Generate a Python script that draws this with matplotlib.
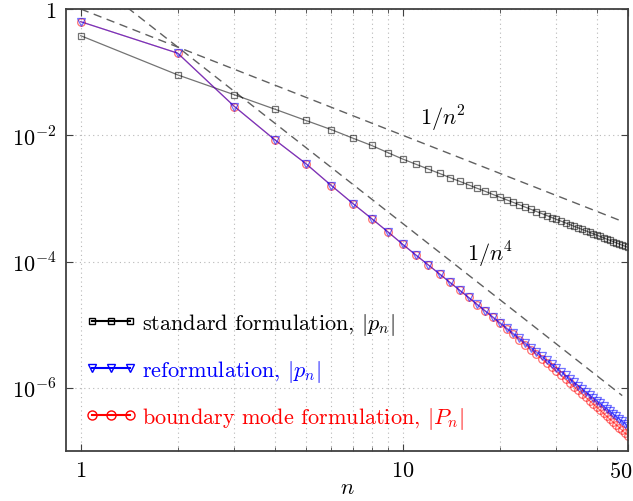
import numpy as np
import matplotlib
matplotlib.use("Agg")
import matplotlib.pyplot as plt
from matplotlib.lines import Line2D
from matplotlib.ticker import FixedLocator, FixedFormatter, NullLocator
from matplotlib.transforms import ScaledTranslation

plt.rcParams['font.family'] = 'serif'
plt.rcParams['font.serif'] = ['cmr10', 'DejaVu Serif']
plt.rcParams['mathtext.fontset'] = 'cm'
plt.rcParams['axes.formatter.use_mathtext'] = True

# mode number
n = list(range(1, 51))

# standard formulation, |p_n|
standard = [
    0.378, 0.0906, 0.0438, 0.0260, 0.0172, 0.0123, 0.00900, 0.00690, 0.00530, 0.00420,
    3.47e-3, 2.92e-3, 2.49e-3, 2.14e-3, 1.87e-3, 1.64e-3, 1.45e-3, 1.30e-3, 1.16e-3, 1.05e-3,
    9.52e-4, 8.68e-4, 7.94e-4, 7.29e-4, 6.72e-4, 6.21e-4, 5.76e-4, 5.36e-4, 4.99e-4, 4.67e-4,
    4.37e-4, 4.10e-4, 3.86e-4, 3.63e-4, 3.43e-4, 3.24e-4, 3.07e-4, 2.91e-4, 2.76e-4, 2.63e-4,
    2.50e-4, 2.38e-4, 2.27e-4, 2.17e-4, 2.07e-4, 1.98e-4, 1.90e-4, 1.82e-4, 1.75e-4, 1.68e-4,
]

# reformulation, |p_n|
reform = [
    0.63, 0.20, 0.0286, 0.00853, 0.00356, 0.00160, 8.3e-4, 4.8e-4, 2.94e-4, 1.87e-4,
    1.26e-4, 8.84e-5, 6.37e-5, 4.69e-5, 3.53e-5, 2.71e-5, 2.11e-5, 1.67e-5, 1.34e-5, 1.08e-5,
    8.87e-6, 7.32e-6, 6.10e-6, 5.12e-6, 4.33e-6, 3.68e-6, 3.15e-6, 2.72e-6, 2.35e-6, 2.05e-6,
    1.79e-6, 1.57e-6, 1.38e-6, 1.22e-6, 1.09e-6, 9.68e-7, 8.65e-7, 7.75e-7, 6.97e-7, 6.27e-7,
    5.67e-7, 5.14e-7, 4.66e-7, 4.24e-7, 3.87e-7, 3.53e-7, 3.23e-7, 2.97e-7, 2.72e-7, 2.51e-7,
]

# boundary mode formulation, |P_n|
boundary = [
    0.63, 0.20, 0.0286, 0.00853, 0.00356, 0.00160, 8.3e-4, 4.8e-4, 2.94e-4, 1.87e-4,
    1.26e-4, 8.84e-5, 6.37e-5, 4.69e-5, 3.53e-5, 2.70e-5, 2.09e-5, 1.645e-5, 1.313e-5, 1.053e-5,
    8.59e-6, 7.03e-6, 5.81e-6, 4.83e-6, 4.05e-6, 3.41e-6, 2.89e-6, 2.47e-6, 2.11e-6, 1.82e-6,
    1.572e-6, 1.363e-6, 1.184e-6, 1.035e-6, 9.13e-7, 8.02e-7, 7.08e-7, 6.26e-7, 5.56e-7, 4.95e-7,
    4.42e-7, 3.96e-7, 3.54e-7, 3.18e-7, 2.87e-7, 2.59e-7, 2.34e-7, 2.12e-7, 1.92e-7, 1.75e-7,
]

# guide lines (end points)
guide_n = [1, 48]
guide_n2 = [1.0, 4.34e-4]    # 1/n^2
guide_n4 = [4.0, 7.54e-7]    # ~1/n^4

fig = plt.figure(figsize=(6.33, 5.02), dpi=100)
ax = fig.add_axes([0.1043, 0.0996, 0.8877, 0.8804])

dash_kw = dict(color='#606060', lw=1.0, dashes=(6, 4))
ax.plot(guide_n, guide_n2, **dash_kw)
ax.plot(guide_n, guide_n4, **dash_kw)

ax.plot(n, standard, color='black', alpha=0.55, lw=0.9, marker='s', ms=5,
        mfc='none', mew=0.9)
ax.plot(n, boundary, color='red', alpha=0.55, lw=0.9, marker='o', ms=5.5,
        mfc='none', mew=0.9)
ax.plot(n, reform, color='blue', alpha=0.55, lw=0.9, marker='v', ms=5.5,
        mfc='none', mew=0.9)

ax.set_xscale('log')
ax.set_yscale('log')
ax.set_xlim(0.9, 50)
ax.set_ylim(1e-7, 1)

ax.xaxis.set_major_locator(FixedLocator([1, 10, 50]))
ax.xaxis.set_major_formatter(FixedFormatter(['$1$', '$10$', '$50$']))
ax.xaxis.set_minor_locator(FixedLocator([2, 3, 4, 5, 6, 7, 8, 9, 20, 30, 40]))
ax.yaxis.set_major_locator(FixedLocator([1e-6, 1e-4, 1e-2, 1]))
ax.yaxis.set_major_formatter(FixedFormatter(['$10^{-6}$', '$10^{-4}$', '$10^{-2}$', '$1$']))
ax.yaxis.set_minor_locator(NullLocator())

ax.tick_params(which='both', direction='in', top=True, right=True,
               colors='#404040', labelcolor='black', labelsize=16, pad=7)
ax.tick_params(which='major', length=5, width=0.8)
ax.tick_params(which='minor', length=3, width=0.6)

ax.grid(True, which='both', axis='x', color='#b8b8b8', lw=0.8, linestyle=(0, (1, 3)))
ax.grid(True, which='major', axis='y', color='#b8b8b8', lw=0.8, linestyle=(0, (1, 3)))
ax.set_axisbelow(True)

for s in ax.spines.values():
    s.set_color('#404040')
    s.set_linewidth(1.3)

ax.set_xlabel('$n$', fontsize=16, labelpad=-2)

# keep the "50" label inside the figure
fig.canvas.draw()
last = ax.get_xticklabels()[-1]
last.set_horizontalalignment('right')
last.set_transform(last.get_transform() + ScaledTranslation(0.04, 0, fig.dpi_scale_trans))

ax.text(11.3, 0.019, '$1/n^2$', fontsize=16, ha='left', va='center')
ax.text(15.8, 1.3e-4, '$1/n^4$', fontsize=16, ha='left', va='center')

handles = [
    Line2D([], [], color='black', lw=1.5, marker='s', ms=5, mfc='none', mew=1),
    Line2D([], [], color='blue', lw=1.5, marker='v', ms=6, mfc='none', mew=1),
    Line2D([], [], color='red', lw=1.5, marker='o', ms=6.5, mfc='none', mew=1),
]
labels = ['standard formulation, $|p_n|$',
          'reformulation, $|p_n|$',
          'boundary mode formulation, $|P_n|$']
leg = ax.legend(handles, labels, loc='lower left', bbox_to_anchor=(0.035, 0.045),
                frameon=False, fontsize=16, numpoints=3, handlelength=2.3,
                handletextpad=0.25, labelspacing=0.95, borderpad=0, borderaxespad=0)
for txt, h in zip(leg.get_texts(), handles):
    txt.set_color(h.get_color())

fig.savefig('out.png', dpi=100)
